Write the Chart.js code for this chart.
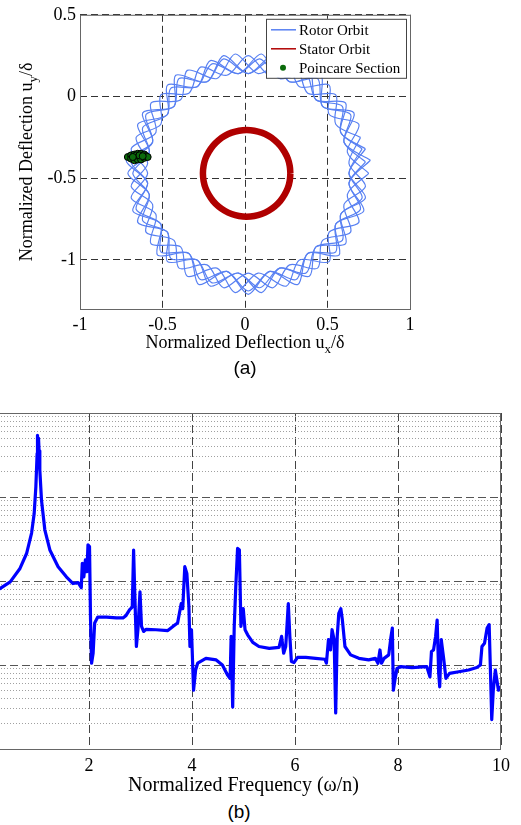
<!DOCTYPE html>
<html>
<head>
<meta charset="utf-8">
<script src="https://cdn.jsdelivr.net/npm/chart.js@4.4.0/dist/chart.umd.min.js"></script>
<style>
  html, body { margin: 0; padding: 0; background: #fff; overflow: hidden; }
  body { width: 521px; height: 825px; position: relative; }
  canvas { position: absolute; }
  #orbitChart { left: 0; top: 0; }
  #specChart { left: -14px; top: 400px; }
  .caption { position: absolute; width: 100px; text-align: center; font-family: "Liberation Sans", Arial, sans-serif; font-size: 19px; line-height: 20px; color: #000; }
</style>
</head>
<body>
<canvas id="orbitChart" width="521" height="360"></canvas>
<div class="caption" style="left:195px; top:358px;">(a)</div>
<canvas id="specChart" width="530" height="400"></canvas>
<div class="caption" style="left:189px; top:802px;">(b)</div>

<script>
// ---- (a) orbit data, [x, y] pairs ----
// rotor whirl drawn as several passes round the band, each offset a little
const rotorPass1 = [[0.75,-0.47],[0.62,-0.34],[0.69,-0.17],[0.51,-0.11],[0.51,0.07],[0.33,0.06],[0.25,0.22],[0.08,0.14],[-0.06,0.26],[-0.17,0.11],[-0.35,0.16],[-0.39,-0.02],[-0.57,-0.04],[-0.54,-0.22],[-0.69,-0.32],[-0.59,-0.47],[-0.69,-0.62],[-0.54,-0.72],[-0.57,-0.90],[-0.39,-0.92],[-0.35,-1.10],[-0.17,-1.05],[-0.06,-1.20],[0.08,-1.08],[0.25,-1.16],[0.33,-1.00],[0.51,-1.01],[0.51,-0.83],[0.69,-0.77],[0.62,-0.60],[0.75,-0.47]];
const rotorPass2 = [[0.73,-0.40],[0.60,-0.28],[0.64,-0.11],[0.47,-0.06],[0.44,0.11],[0.27,0.09],[0.17,0.23],[0.02,0.14],[-0.13,0.23],[-0.23,0.09],[-0.40,0.11],[-0.43,-0.06],[-0.60,-0.11],[-0.56,-0.28],[-0.69,-0.40],[-0.59,-0.53],[-0.66,-0.69],[-0.51,-0.78],[-0.51,-0.95],[-0.34,-0.96],[-0.27,-1.12],[-0.11,-1.07],[0.02,-1.19],[0.15,-1.07],[0.31,-1.12],[0.38,-0.96],[0.55,-0.95],[0.55,-0.78],[0.70,-0.69],[0.63,-0.53],[0.73,-0.40]];
const rotorPass3 = [[0.73,-0.32],[0.58,-0.22],[0.61,-0.04],[0.43,-0.02],[0.39,0.16],[0.21,0.11],[0.10,0.26],[-0.04,0.14],[-0.21,0.22],[-0.29,0.06],[-0.47,0.07],[-0.47,-0.11],[-0.65,-0.17],[-0.58,-0.34],[-0.71,-0.47],[-0.58,-0.60],[-0.65,-0.77],[-0.47,-0.83],[-0.47,-1.01],[-0.29,-1.00],[-0.21,-1.16],[-0.04,-1.08],[0.10,-1.20],[0.21,-1.05],[0.39,-1.10],[0.43,-0.92],[0.61,-0.90],[0.58,-0.72],[0.73,-0.62],[0.63,-0.47],[0.73,-0.32]];
const rotorPass4 = [[0.70,-0.25],[0.55,-0.17],[0.55,0.01],[0.38,0.02],[0.31,0.18],[0.15,0.13],[0.02,0.25],[-0.11,0.13],[-0.27,0.18],[-0.34,0.02],[-0.51,0.01],[-0.51,-0.17],[-0.66,-0.25],[-0.59,-0.41],[-0.69,-0.55],[-0.56,-0.66],[-0.60,-0.83],[-0.43,-0.88],[-0.40,-1.05],[-0.23,-1.03],[-0.13,-1.17],[0.02,-1.08],[0.17,-1.17],[0.27,-1.03],[0.44,-1.05],[0.47,-0.88],[0.64,-0.83],[0.60,-0.66],[0.73,-0.55],[0.63,-0.41],[0.70,-0.25]];
const rotorPass5 = [[0.71,-0.32],[0.58,-0.22],[0.59,-0.06],[0.43,-0.02],[0.37,0.14],[0.21,0.11],[0.09,0.23],[-0.04,0.14],[-0.20,0.20],[-0.29,0.06],[-0.45,0.05],[-0.47,-0.11],[-0.62,-0.19],[-0.58,-0.34],[-0.68,-0.47],[-0.58,-0.60],[-0.62,-0.76],[-0.47,-0.83],[-0.45,-0.99],[-0.29,-1.00],[-0.20,-1.14],[-0.04,-1.08],[0.09,-1.17],[0.21,-1.05],[0.37,-1.08],[0.43,-0.92],[0.59,-0.88],[0.58,-0.72],[0.71,-0.62],[0.63,-0.47],[0.71,-0.32]];
const rotorPass6 = [[0.76,-0.39],[0.60,-0.28],[0.66,-0.10],[0.47,-0.06],[0.46,0.13],[0.27,0.09],[0.17,0.25],[0.02,0.14],[-0.13,0.25],[-0.23,0.09],[-0.42,0.13],[-0.43,-0.06],[-0.62,-0.10],[-0.56,-0.28],[-0.72,-0.39],[-0.59,-0.53],[-0.68,-0.70],[-0.51,-0.78],[-0.53,-0.97],[-0.34,-0.96],[-0.28,-1.15],[-0.11,-1.07],[0.02,-1.21],[0.15,-1.07],[0.32,-1.15],[0.38,-0.96],[0.57,-0.97],[0.55,-0.78],[0.72,-0.70],[0.63,-0.53],[0.76,-0.39]];
const statorOrbit = [[0.275,-0.470],[0.271,-0.424],[0.259,-0.379],[0.239,-0.338],[0.213,-0.300],[0.180,-0.267],[0.143,-0.241],[0.101,-0.221],[0.056,-0.209],[0.010,-0.205],[-0.036,-0.209],[-0.081,-0.221],[-0.123,-0.241],[-0.160,-0.267],[-0.193,-0.300],[-0.219,-0.338],[-0.239,-0.379],[-0.251,-0.424],[-0.255,-0.470],[-0.251,-0.516],[-0.239,-0.561],[-0.219,-0.602],[-0.193,-0.640],[-0.160,-0.673],[-0.123,-0.699],[-0.081,-0.719],[-0.036,-0.731],[0.010,-0.735],[0.056,-0.731],[0.101,-0.719],[0.143,-0.699],[0.180,-0.673],[0.213,-0.640],[0.239,-0.602],[0.259,-0.561],[0.271,-0.516],[0.275,-0.470]];
const poincarePoints = [[-0.71,-0.37],[-0.69,-0.36],[-0.69,-0.38],[-0.67,-0.355],[-0.67,-0.375],[-0.67,-0.39],[-0.65,-0.35],[-0.65,-0.37],[-0.65,-0.385],[-0.63,-0.35],[-0.63,-0.37],[-0.63,-0.385],[-0.61,-0.355],[-0.61,-0.375],[-0.60,-0.365],[-0.59,-0.37],[-0.66,-0.36],[-0.64,-0.36],[-0.62,-0.365],[-0.68,-0.37]];
const orbitXTicks = [-1, -0.5, 0, 0.5, 1];
const orbitYTicks = [-1, -0.5, 0, 0.5];
const orbitLegend = ["Rotor Orbit", "Stator Orbit", "Poincare Section"];

// ---- (b) spectrum data ----
const specFreq = [0.10,0.27,0.47,0.66,0.79,0.885,0.935,0.968,0.993,1.00,1.01,1.02,1.03,1.045,1.078,1.142,1.24,1.40,1.56,1.69,1.79,1.85,1.87,1.90,1.93,1.96,1.98,2.01,2.03,2.05,2.08,2.11,2.17,2.34,2.53,2.66,2.72,2.79,2.84,2.866,2.885,2.92,2.95,2.99,3.02,3.06,3.11,3.30,3.53,3.63,3.72,3.79,3.82,3.86,3.90,3.94,3.96,3.99,4.03,4.07,4.11,4.27,4.47,4.59,4.69,4.74,4.76,4.79,4.82,4.85,4.885,4.92,4.95,4.995,5.03,5.08,5.18,5.30,5.50,5.69,5.74,5.78,5.82,5.87,5.90,5.93,5.98,6.05,6.21,6.40,6.58,6.61,6.65,6.69,6.72,6.76,6.79,6.82,6.85,6.89,6.92,6.97,7.08,7.24,7.43,7.56,7.61,7.65,7.68,7.73,7.82,7.86,7.89,7.91,7.94,7.98,8.05,8.27,8.56,8.62,8.65,8.69,8.73,8.76,8.79,8.81,8.84,8.89,8.93,9.00,9.18,9.37,9.53,9.60,9.63,9.68,9.73,9.77,9.80,9.82,9.85,9.89,9.92,9.95,10.0];
const specAmp = [0.00708,0.00813,0.00977,0.0141,0.0214,0.0372,0.0631,0.132,0.331,0.543,0.398,0.501,0.355,0.209,0.0912,0.0407,0.0234,0.0148,0.0112,0.00933,0.00955,0.00832,0.0162,0.0112,0.0178,0.0129,0.0269,0.0257,0.00339,0.00105,0.00138,0.00316,0.00372,0.00372,0.00363,0.00363,0.00389,0.00457,0.00490,0.0234,0.00851,0.00166,0.00263,0.00741,0.00288,0.00251,0.00266,0.00263,0.00257,0.00288,0.00316,0.00537,0.00468,0.0148,0.0123,0.00490,0.00166,0.00263,0.000501,0.000871,0.00105,0.00120,0.00115,0.00100,0.000759,0.000692,0.00219,0.000316,0.00288,0.00851,0.0245,0.0234,0.00288,0.00468,0.00263,0.00229,0.00186,0.00166,0.00158,0.00162,0.00219,0.00138,0.00166,0.00537,0.00219,0.00110,0.00107,0.00123,0.00123,0.00120,0.00117,0.00105,0.00200,0.00151,0.00263,0.00200,0.000269,0.00219,0.00412,0.00468,0.00343,0.00166,0.00132,0.00120,0.00115,0.00120,0.00105,0.00151,0.00105,0.00120,0.00132,0.00209,0.00275,0.000501,0.000661,0.000912,0.000955,0.000933,0.000955,0.000724,0.00145,0.00151,0.00219,0.00343,0.000794,0.000550,0.00200,0.00115,0.000692,0.000794,0.000832,0.000871,0.000933,0.00100,0.00166,0.00182,0.00275,0.00302,0.000661,0.000224,0.000501,0.000871,0.000661,0.000501,0.000550];
const specXTicks = [2, 4, 6, 8, 10];
const specDecades = [1e-4, 1e-3, 1e-2, 1e-1, 1];
const specMinorSteps = [2, 3, 4, 5, 6, 7, 8, 9];

const SERIF = '"Liberation Serif", "Times New Roman", serif';
const ROTOR_COLOR = "rgb(88,128,242)";
const STATOR_COLOR = "#b00000";
const POINCARE_COLOR = "#0b6b0b";

Chart.defaults.animation = false;
Chart.defaults.font.family = SERIF;
Chart.defaults.color = "#000";

const toXY = pts => pts.map(p => ({ x: p[0], y: p[1] }));

// draws text pieces with optional subscript, centred on 0
function drawRichText(ctx, parts, size) {
  let total = 0;
  parts.forEach(p => {
    ctx.font = (p.sub ? Math.round(size * 0.72) : size) + "px " + SERIF;
    p.w = ctx.measureText(p.t).width;
    total += p.w;
  });
  let x = -total / 2;
  parts.forEach(p => {
    ctx.font = (p.sub ? Math.round(size * 0.72) : size) + "px " + SERIF;
    ctx.fillText(p.t, x, p.sub ? size * 0.3 : 0);
    x += p.w;
  });
}

// frame, axis titles and legend for the orbit plot
const orbitDecor = {
  id: "orbitDecor",
  afterDraw(chart) {
    const { ctx, chartArea: a } = chart;
    ctx.save();
    ctx.strokeStyle = "#666";
    ctx.lineWidth = 1;
    ctx.strokeRect(a.left + 0.5, a.top + 0.5, a.right - a.left, a.bottom - a.top);

    ctx.fillStyle = "#000";
    ctx.textBaseline = "alphabetic";
    ctx.save();
    ctx.translate((a.left + a.right) / 2, a.bottom + 39);
    drawRichText(ctx, [{ t: "Normalized Deflection u" }, { t: "x", sub: true }, { t: "/δ" }], 18);
    ctx.restore();
    ctx.save();
    ctx.translate(32, (a.top + a.bottom) / 2);
    ctx.rotate(-Math.PI / 2);
    drawRichText(ctx, [{ t: "Normalized Deflection u" }, { t: "y", sub: true }, { t: "/δ" }], 18);
    ctx.restore();

    // legend box
    const bx = a.right - 144, by = a.top + 4, bw = 140, bh = 59;
    ctx.fillStyle = "#fff";
    ctx.fillRect(bx, by, bw, bh);
    ctx.strokeStyle = "#444";
    ctx.strokeRect(bx + 0.5, by + 0.5, bw, bh);
    ctx.font = "15px " + SERIF;
    ctx.textBaseline = "middle";
    const rows = [by + 11, by + 30, by + 49];
    [ROTOR_COLOR, STATOR_COLOR].forEach((c, i) => {
      ctx.strokeStyle = c;
      ctx.lineWidth = 1.5;
      ctx.beginPath();
      ctx.moveTo(bx + 5, rows[i]);
      ctx.lineTo(bx + 30, rows[i]);
      ctx.stroke();
    });
    ctx.fillStyle = POINCARE_COLOR;
    ctx.beginPath();
    ctx.arc(bx + 17, rows[2], 3, 0, Math.PI * 2);
    ctx.fill();
    ctx.fillStyle = "#000";
    orbitLegend.forEach((t, i) => ctx.fillText(t, bx + 33, rows[i] + 1));
    ctx.restore();
  }
};

const specDecor = {
  id: "specDecor",
  afterDraw(chart) {
    const { ctx, chartArea: a } = chart;
    ctx.save();
    ctx.strokeStyle = "#666";
    ctx.lineWidth = 1;
    ctx.strokeRect(a.left + 0.5, a.top + 0.5, a.right - a.left - 1, a.bottom - a.top);
    ctx.fillStyle = "#000";
    ctx.font = "20px " + SERIF;
    ctx.textAlign = "center";
    ctx.fillText("Normalized Frequency (ω/n)", (a.left + a.right) / 2, a.bottom + 42);
    ctx.restore();
  }
};

const orbitTickFont = { family: SERIF, size: 18 };
const rotorStyle = { order: 2, showLine: true, pointRadius: 0, tension: 0.3, borderColor: ROTOR_COLOR, borderWidth: 1.2 };

new Chart(document.getElementById("orbitChart"), {
  type: "scatter",
  data: {
    datasets: [
      { label: "Poincare Section", data: toXY(poincarePoints), order: 0, pointRadius: 3.5,
        backgroundColor: POINCARE_COLOR, borderColor: "#000", borderWidth: 1, showLine: false },
      { label: "Stator Orbit", data: toXY(statorOrbit), order: 1, showLine: true, tension: 0.4,
        pointRadius: 0, borderColor: STATOR_COLOR, borderWidth: 6.5 },
      { label: "Rotor Orbit", data: toXY(rotorPass1), ...rotorStyle },
      { label: "Rotor Orbit", data: toXY(rotorPass2), ...rotorStyle },
      { label: "Rotor Orbit", data: toXY(rotorPass3), ...rotorStyle },
      { label: "Rotor Orbit", data: toXY(rotorPass4), ...rotorStyle },
      { label: "Rotor Orbit", data: toXY(rotorPass5), ...rotorStyle },
      { label: "Rotor Orbit", data: toXY(rotorPass6), ...rotorStyle }
    ]
  },
  options: {
    responsive: false,
    layout: { padding: { top: 13, right: 111, left: 0, bottom: 0 } },
    plugins: { legend: { display: false }, tooltip: { enabled: false } },
    scales: {
      x: {
        type: "linear", min: -1, max: 1,
        afterBuildTicks: s => { s.ticks = orbitXTicks.map(v => ({ value: v })); },
        afterFit: s => { s.height = 51; },
        ticks: { font: orbitTickFont, padding: 5, callback: v => String(v), maxRotation: 0 },
        grid: { color: "#333", lineWidth: 1, drawTicks: false },
        border: { display: false, dash: [7, 4] }
      },
      y: {
        type: "linear", min: -1.3, max: 0.5,
        afterBuildTicks: s => { s.ticks = orbitYTicks.map(v => ({ value: v })); },
        afterFit: s => { s.width = 80; },
        ticks: { font: orbitTickFont, padding: 4, callback: v => String(v) },
        grid: { color: "#333", lineWidth: 1, drawTicks: false },
        border: { display: false, dash: [7, 4] }
      }
    }
  },
  plugins: [orbitDecor]
});

const specMinorTicks = specDecades.slice(0, -1).flatMap(d => specMinorSteps.map(s => d * s));

new Chart(document.getElementById("specChart"), {
  type: "line",
  data: {
    datasets: [{
      label: "Response",
      data: specFreq.map((f, i) => ({ x: f, y: specAmp[i] })),
      borderColor: "#0000ff", borderWidth: 3.2, pointRadius: 0, tension: 0,
      borderJoinStyle: "round", yAxisID: "y"
    }]
  },
  options: {
    responsive: false,
    layout: { padding: { top: 13, right: 14, left: 0, bottom: 0 } },
    plugins: { legend: { display: false }, tooltip: { enabled: false } },
    scales: {
      x: {
        type: "linear", min: 0, max: 10,
        afterBuildTicks: s => { s.ticks = specXTicks.map(v => ({ value: v })); },
        afterFit: s => { s.height = 51; },
        ticks: { font: { family: SERIF, size: 18 }, padding: 6, maxRotation: 0 },
        grid: { color: "#444", drawTicks: false },
        border: { display: false, dash: [8, 4] }
      },
      y: {
        type: "logarithmic", min: 1e-4, max: 1, position: "left",
        afterBuildTicks: s => { s.ticks = specMinorTicks.map(v => ({ value: v })); },
        afterFit: s => { s.width = 0; },
        ticks: { display: false, autoSkip: false },
        grid: { color: "#a0a0a0", drawTicks: false },
        border: { display: false, dash: [1, 2] }
      },
      yMajor: {
        type: "logarithmic", min: 1e-4, max: 1, position: "left",
        afterBuildTicks: s => { s.ticks = specDecades.map(v => ({ value: v })); },
        afterFit: s => { s.width = 0; },
        ticks: { display: false, autoSkip: false },
        grid: { color: "#555", drawTicks: false },
        border: { display: false, dash: [8, 4] }
      }
    }
  },
  plugins: [specDecor]
});
</script>
</body>
</html>
